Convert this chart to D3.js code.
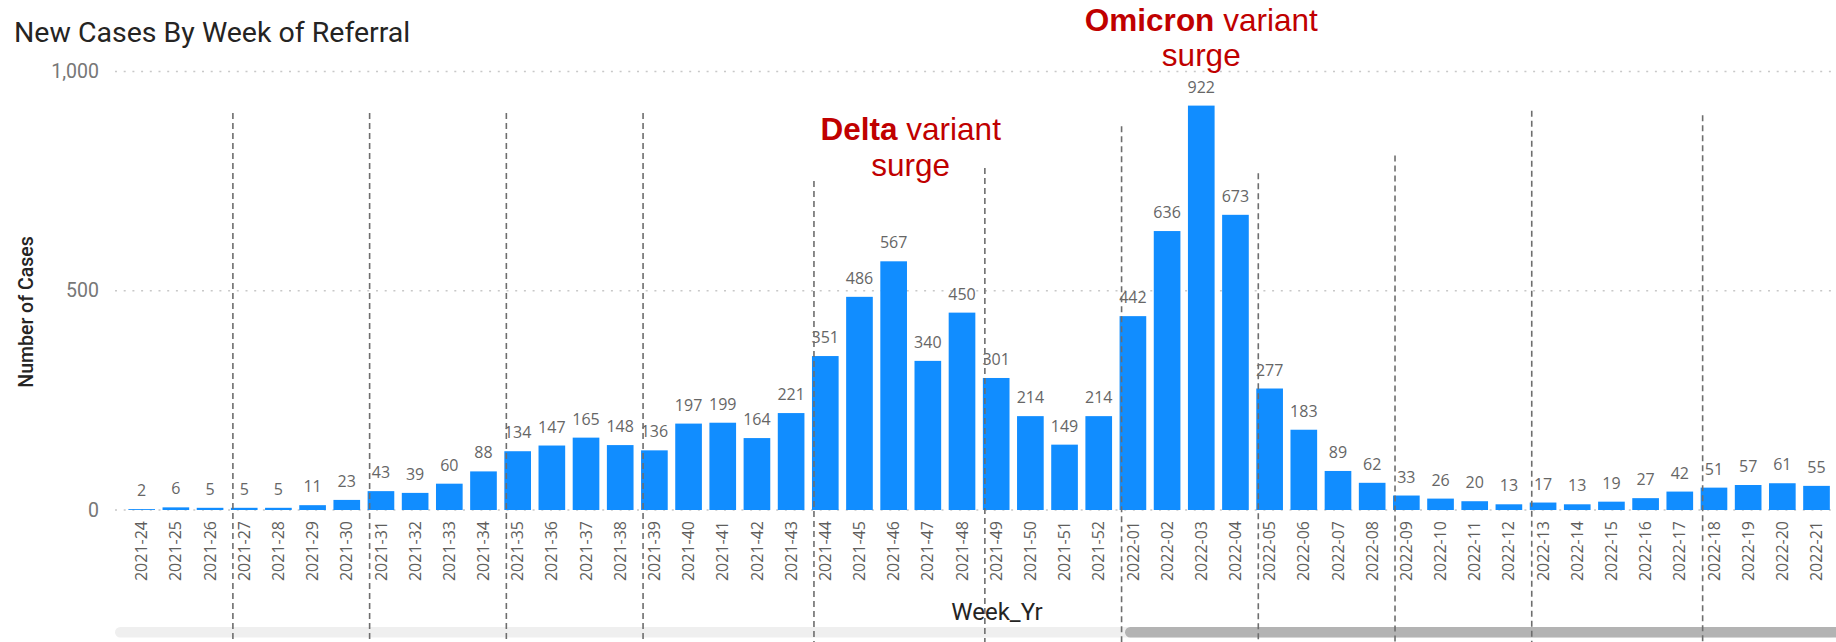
<!DOCTYPE html>
<html>
<head>
<meta charset="utf-8">
<script src="https://cdn.jsdelivr.net/npm/d3@7"></script>
<style>
  body { margin: 0; background: #fff; }
  svg { display: block; }
</style>
</head>
<body>
<div id="chart"></div>
<script>
// weekly data
const weeks = [
  "2021-24","2021-25","2021-26","2021-27","2021-28","2021-29","2021-30","2021-31","2021-32","2021-33",
  "2021-34","2021-35","2021-36","2021-37","2021-38","2021-39","2021-40","2021-41","2021-42","2021-43",
  "2021-44","2021-45","2021-46","2021-47","2021-48","2021-49","2021-50","2021-51","2021-52",
  "2022-01","2022-02","2022-03","2022-04","2022-05","2022-06","2022-07","2022-08","2022-09","2022-10",
  "2022-11","2022-12","2022-13","2022-14","2022-15","2022-16","2022-17","2022-18","2022-19","2022-20","2022-21"
];
const cases = [
  2, 6, 5, 5, 5, 11, 23, 43, 39, 60,
  88, 134, 147, 165, 148, 136, 197, 199, 164, 221,
  351, 486, 567, 340, 450, 301, 214, 149, 214,
  442, 636, 922, 673, 277, 183, 89, 62, 33, 26,
  20, 13, 17, 13, 19, 27, 42, 51, 57, 61, 55
];
const yTicks = [0, 500, 1000];

// dashed month separators and how high each one reaches (in cases)
const monthStarts = ["2021-27","2021-31","2021-35","2021-39","2021-44","2021-49","2022-01","2022-05","2022-09","2022-13","2022-18"];
const monthTops = [905, 905, 905, 905, 750, 780, 875, 768, 808, 910, 900];

// surge annotations
const surgeNames = ["Delta", "Omicron"];
const surgeWeeks = [["2021-46","2021-47"], ["2022-03"]];
const surgeLevels = [843, 1093];

const width = 1836, height = 642;

const svg = d3.select("#chart")
  .append("svg")
  .attr("width", width)
  .attr("height", height);

const x = d3.scaleBand()
  .domain(weeks)
  .range([124.6, 1833.6])
  .paddingInner(0.22)
  .paddingOuter(0.11);

const y = d3.scaleLinear()
  .domain([0, 1000])
  .range([510, 71.4]);

// title
svg.append("text")
  .attr("x", 14)
  .attr("y", 42)
  .attr("font-family", "Roboto")
  .attr("font-size", 28.5)
  .attr("fill", "#252423")
  .text("New Cases By Week of Referral");

// dotted gridlines
svg.append("g")
  .selectAll("line")
  .data(yTicks)
  .enter()
  .append("line")
  .attr("x1", 115)
  .attr("x2", width)
  .attr("y1", d => y(d))
  .attr("y2", d => y(d))
  .attr("stroke", "#c8c8c8")
  .attr("stroke-width", 1.5)
  .attr("stroke-dasharray", "2,6.7");

// y axis (labels only)
const yAxis = svg.append("g")
  .attr("transform", "translate(99,0)")
  .call(d3.axisLeft(y).tickValues(yTicks).tickSize(0).tickPadding(0).tickFormat(d3.format(",")));
yAxis.select(".domain").remove();
yAxis.selectAll("text")
  .attr("font-family", "Roboto")
  .attr("font-size", 19.5)
  .attr("fill", "#777");

svg.append("text")
  .attr("transform", "translate(33,312) rotate(-90)")
  .attr("text-anchor", "middle")
  .attr("font-family", "Roboto")
  .attr("font-weight", 500)
  .attr("font-size", 19.5)
  .attr("fill", "#252423")
  .text("Number of Cases");

// bars
svg.append("g")
  .selectAll("rect")
  .data(weeks)
  .enter()
  .append("rect")
  .attr("x", d => x(d))
  .attr("width", x.bandwidth())
  .attr("y", (d, i) => y(cases[i]))
  .attr("height", (d, i) => y(0) - y(cases[i]))
  .attr("fill", "#118DFF");

// data labels
svg.append("g")
  .selectAll("text")
  .data(weeks)
  .enter()
  .append("text")
  .attr("x", d => x(d) + x.bandwidth() / 2)
  .attr("y", (d, i) => y(cases[i]) - 13)
  .attr("text-anchor", "middle")
  .attr("font-family", "Open Sans")
  .attr("font-size", 16)
  .attr("fill", "#666")
  .text((d, i) => cases[i]);

// x axis
const xAxis = svg.append("g")
  .attr("transform", "translate(0,521)")
  .call(d3.axisBottom(x).tickSize(0).tickPadding(0));
xAxis.select(".domain").remove();
xAxis.selectAll("text")
  .attr("transform", "rotate(-90)")
  .attr("text-anchor", "end")
  .attr("x", 0)
  .attr("y", 0)
  .attr("dy", "0.35em")
  .attr("font-family", "Open Sans")
  .attr("font-size", 16)
  .attr("fill", "#605E5C");

svg.append("text")
  .attr("x", 997)
  .attr("y", 620)
  .attr("text-anchor", "middle")
  .attr("font-family", "Roboto")
  .attr("font-size", 24)
  .attr("fill", "#252423")
  .text("Week_Yr");

// scrollbar
svg.append("rect")
  .attr("x", 115).attr("y", 627)
  .attr("width", width - 115).attr("height", 10.5)
  .attr("rx", 5.25)
  .attr("fill", "#efefef");
svg.append("rect")
  .attr("x", 1125).attr("y", 627)
  .attr("width", width - 1125 + 6).attr("height", 10.5)
  .attr("rx", 5.25)
  .attr("fill", "#b3b3b3");

// month separators
svg.append("g")
  .selectAll("line")
  .data(monthStarts)
  .enter()
  .append("line")
  .attr("x1", d => x(d) + 2)
  .attr("x2", d => x(d) + 2)
  .attr("y1", (d, i) => y(monthTops[i]))
  .attr("y2", height)
  .attr("stroke", "#6e6e6e")
  .attr("stroke-width", 1.6)
  .attr("stroke-dasharray", "6,4");

// annotations
surgeNames.forEach(function(name, i) {
  const ws = surgeWeeks[i];
  const cx = d3.mean(ws, w => x(w) + x.bandwidth() / 2);
  const t = svg.append("text")
    .attr("x", cx)
    .attr("y", y(surgeLevels[i]))
    .attr("text-anchor", "middle")
    .attr("font-family", "Liberation Sans, Arial")
    .attr("font-size", 31.5)
    .attr("fill", "#C00000");
  t.append("tspan").attr("font-weight", "bold").text(name);
  t.append("tspan").text(" variant");
  svg.append("text")
    .attr("x", cx)
    .attr("y", y(surgeLevels[i]) + 35.5)
    .attr("text-anchor", "middle")
    .attr("font-family", "Liberation Sans, Arial")
    .attr("font-size", 31.5)
    .attr("fill", "#C00000")
    .text("surge");
});
</script>
</body>
</html>
